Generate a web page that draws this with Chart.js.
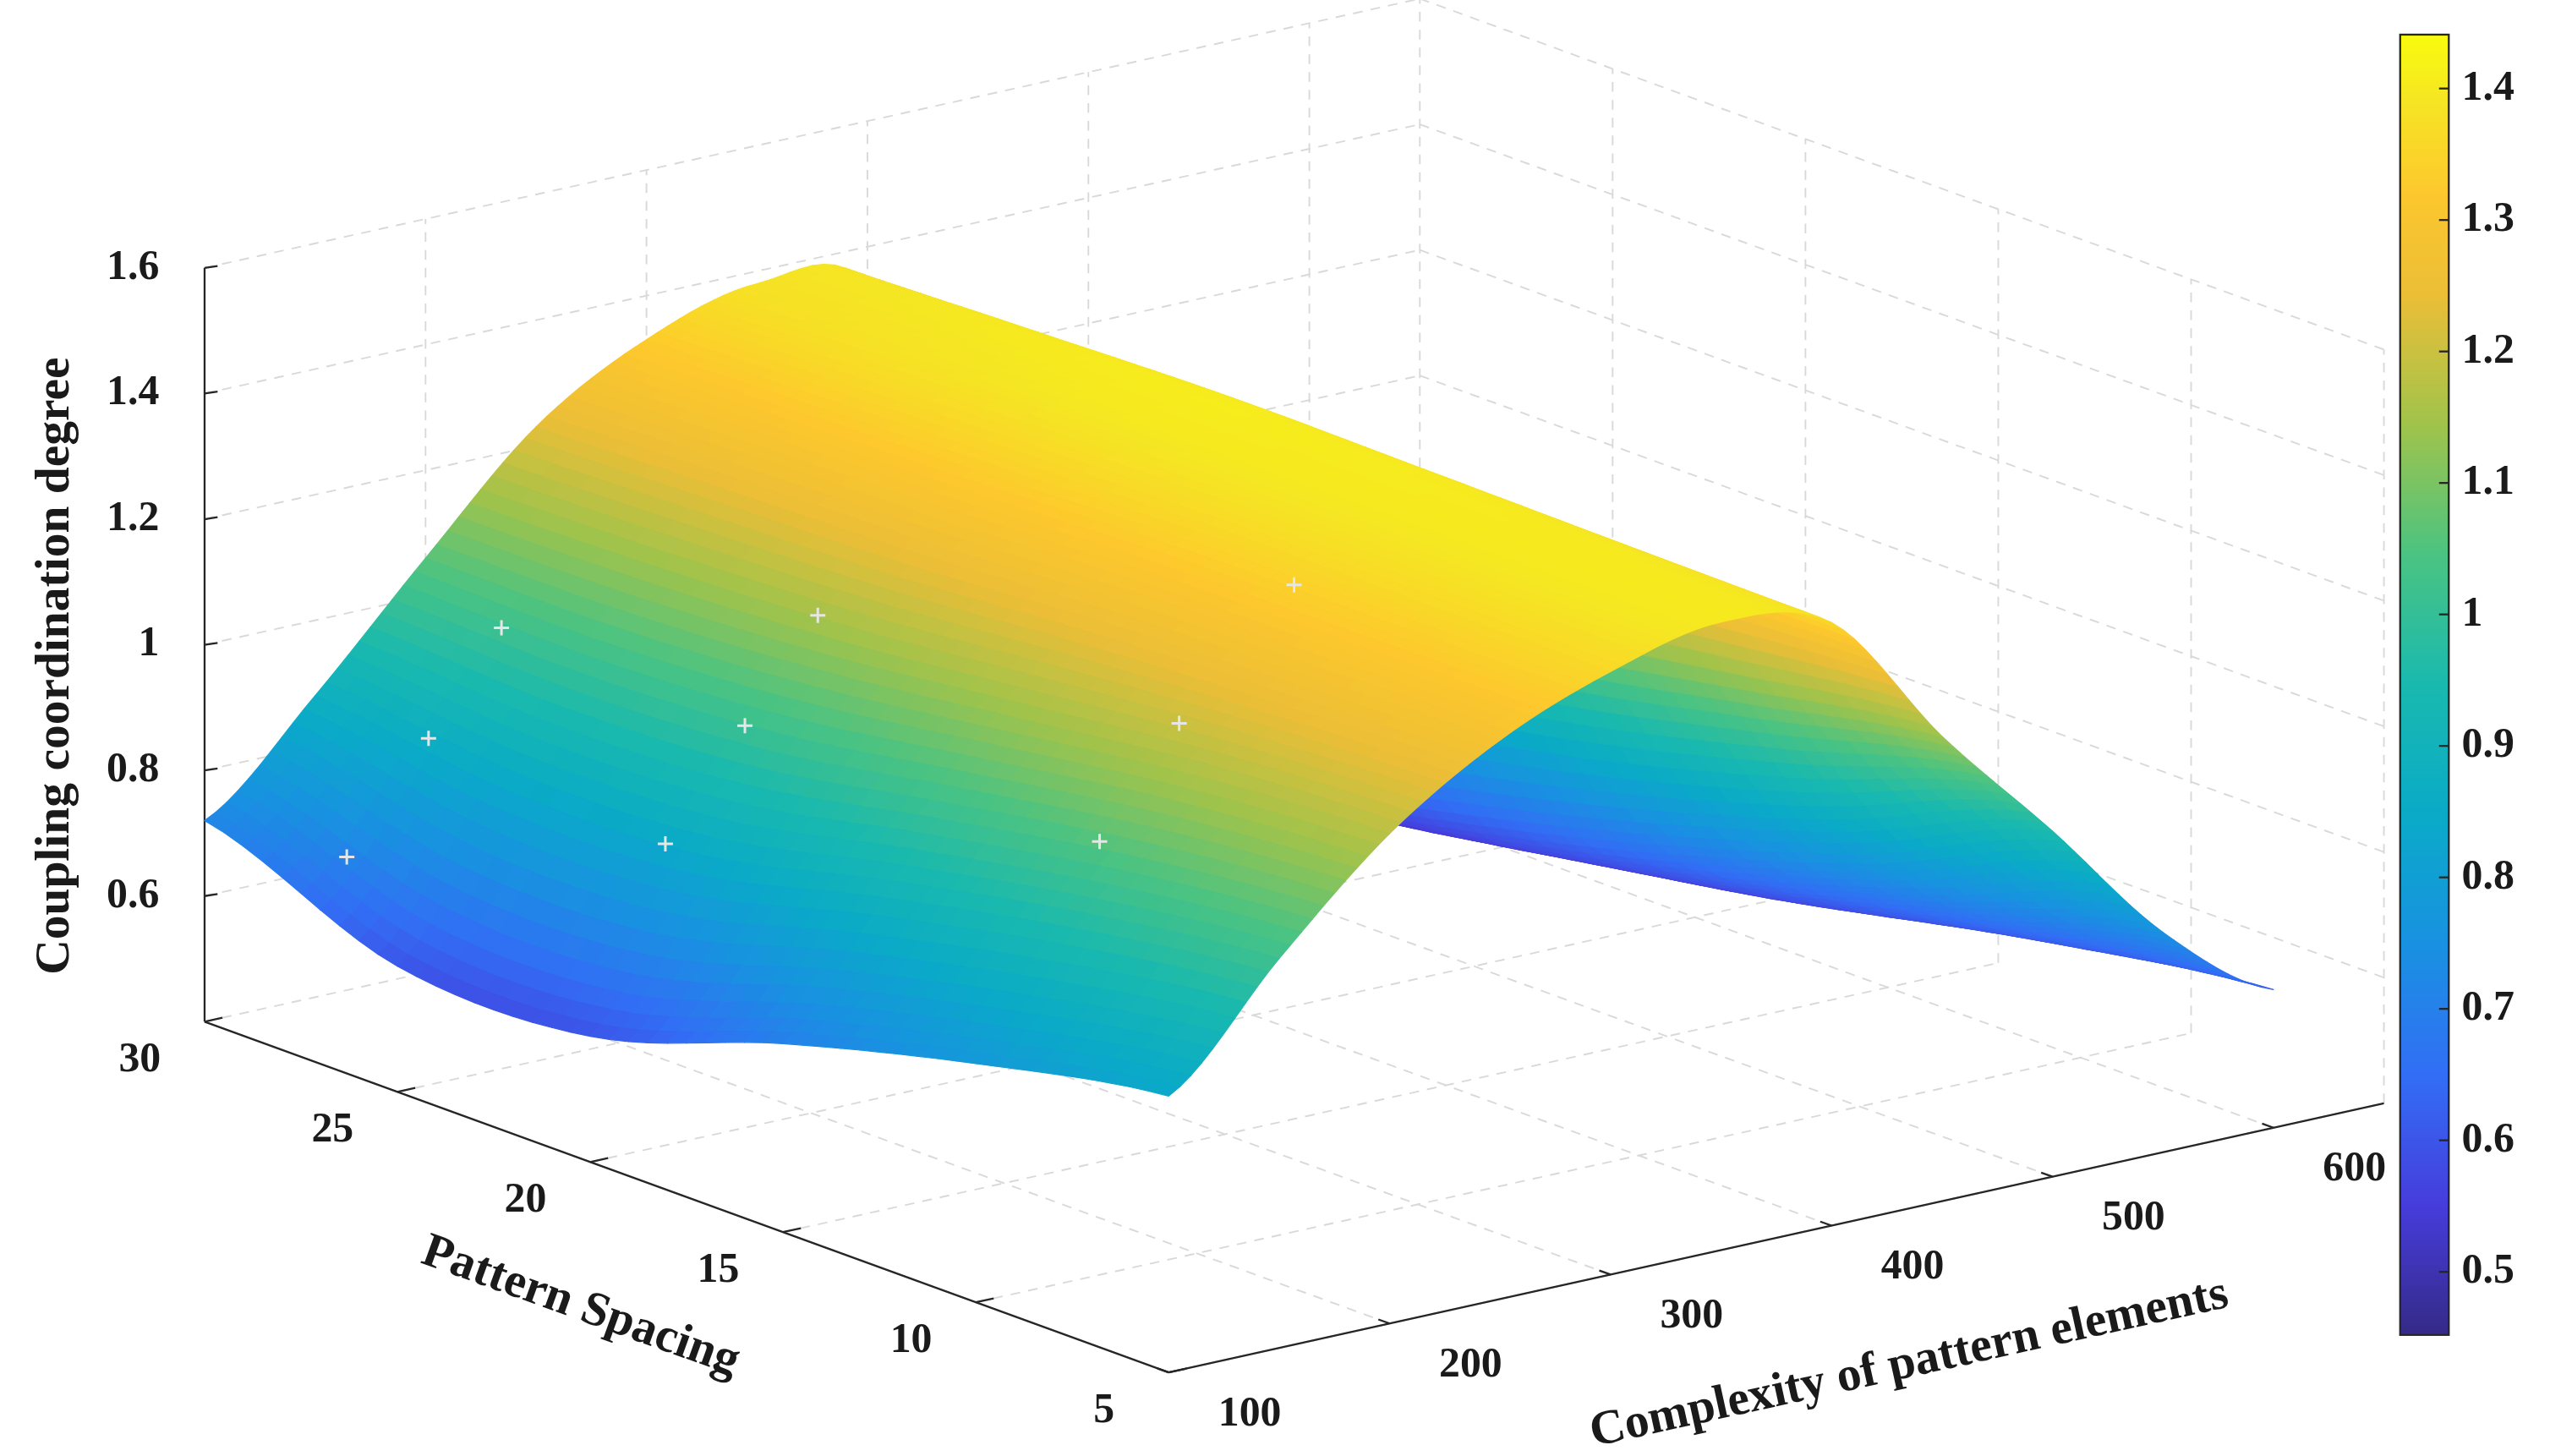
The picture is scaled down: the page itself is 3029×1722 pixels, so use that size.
<!DOCTYPE html>
<html>
<head>
<meta charset="utf-8">
<script src="https://cdn.jsdelivr.net/npm/chart.js@4.4.0/dist/chart.umd.min.js"></script>
<style>
  html, body { margin: 0; padding: 0; background: #fff; }
  #wrap { width: 3029px; height: 1722px; }
</style>
</head>
<body>
<div id="wrap"><canvas id="chart"></canvas></div>
<script>
// Surface data: coupling coordination degree over complexity x pattern spacing
const complexity = [100, 150, 200, 250, 300, 350, 400, 450, 500, 550, 600];
const spacing = [5, 10, 15, 20, 25, 30];
const coupling = [
    [0.84, 1.02, 1.18, 1.29, 1.36, 1.40, 1.36, 1.14, 0.95, 0.75, 0.62],
    [0.78, 0.98, 1.16, 1.28, 1.36, 1.40, 1.36, 1.08, 0.82, 0.66, 0.58],
    [0.70, 0.92, 1.12, 1.27, 1.36, 1.40, 1.36, 1.02, 0.72, 0.58, 0.54],
    [0.60, 0.85, 1.08, 1.25, 1.35, 1.40, 1.36, 0.98, 0.64, 0.53, 0.52],
    [0.60, 0.84, 1.06, 1.24, 1.34, 1.39, 1.35, 0.94, 0.58, 0.50, 0.50],
    [0.72, 0.88, 1.06, 1.23, 1.33, 1.38, 1.34, 0.92, 0.55, 0.50, 0.50]
];

// Sample points (white crosses)
const markerComplexity = [112, 149, 182, 134, 170, 203, 156, 192, 244];
const markerSpacing = [27, 27, 27, 20, 20, 20, 10, 10, 10];
const markerCoupling = [0.72, 0.88, 1.03, 0.88, 1.04, 1.19, 1.09, 1.25, 1.43];

// Axis ticks
const zTicks = [0.6, 0.8, 1, 1.2, 1.4, 1.6];
const spacingTicks = [5, 10, 15, 20, 25, 30];
const complexityTicks = [100, 200, 300, 400, 500, 600];
const colorTicks = [0.5, 0.6, 0.7, 0.8, 0.9, 1, 1.1, 1.2, 1.3, 1.4];
const C_MIN = 100, C_MAX = 650, S_MIN = 5, S_MAX = 30, Z_MIN = 0.4, Z_MAX = 1.6;
const CB_MIN = 0.452, CB_MAX = 1.441;

// Parula-like colormap
const parula = [
    [0.00, [53, 42, 135]], [0.10, [70, 60, 220]], [0.20, [50, 110, 245]],
    [0.30, [25, 145, 225]], [0.40, [10, 170, 200]], [0.50, [25, 185, 175]],
    [0.60, [75, 195, 130]], [0.70, [160, 195, 75]], [0.80, [235, 190, 55]],
    [0.88, [253, 200, 45]], [0.95, [245, 230, 35]], [1.00, [249, 251, 14]]
];

function parulaColor(v) {
    let t = (v - CB_MIN) / (CB_MAX - CB_MIN);
    t = Math.max(0, Math.min(1, t));
    for (let i = 1; i < parula.length; i++) {
        if (t <= parula[i][0]) {
            const a = parula[i - 1], b = parula[i];
            const f = (t - a[0]) / (b[0] - a[0]);
            const c = a[1].map((x, k) => Math.round(x + (b[1][k] - x) * f));
            return `rgb(${c[0]},${c[1]},${c[2]})`;
        }
    }
    return 'rgb(249,251,14)';
}

// Oblique projection of (complexity, spacing, z) into reference units
function proj(c, s, z) {
    return {
        x: 715 + 1.3636 * (c - 100) - 23.8 * (s - 5),
        y: 835 - 0.3 * (c - 100) - 8.6 * (s - 5) - 385 * (z - Z_MIN)
    };
}

// Catmull-Rom for smooth rendering between grid samples
function cr(p0, p1, p2, p3, t) {
    const t2 = t * t, t3 = t2 * t;
    return 0.5 * ((2 * p1) + (-p0 + p2) * t + (2 * p0 - 5 * p1 + 4 * p2 - p3) * t2 + (-p0 + 3 * p1 - 3 * p2 + p3) * t3);
}
function zAt(ci, sj) {
    const nc = complexity.length, ns = spacing.length;
    const i = Math.min(Math.floor(ci), nc - 2), u = ci - i;
    const j = Math.min(Math.floor(sj), ns - 2), v = sj - j;
    const cl = (k, n) => Math.max(0, Math.min(n - 1, k));
    const rows = [];
    for (let dj = -1; dj <= 2; dj++) {
        const r = coupling[cl(j + dj, ns)];
        rows.push(cr(r[cl(i - 1, nc)], r[i], r[cl(i + 1, nc)], r[cl(i + 2, nc)], u));
    }
    return cr(rows[0], rows[1], rows[2], rows[3], v);
}

const surfacePlugin = {
    id: 'surface3d',
    beforeDatasetsDraw(chart) {
        const ctx = chart.ctx;
        const xs = chart.scales.x, ys = chart.scales.y;
        const k = xs.getPixelForValue(1) - xs.getPixelForValue(0);
        const P = (c, s, z) => { const p = proj(c, s, z); return [xs.getPixelForValue(p.x), ys.getPixelForValue(p.y)]; };
        const line = (a, b, dash, color, w) => {
            ctx.save();
            ctx.setLineDash(dash.map(d => d * k));
            ctx.strokeStyle = color; ctx.lineWidth = w * k;
            ctx.beginPath(); ctx.moveTo(a[0], a[1]); ctx.lineTo(b[0], b[1]); ctx.stroke();
            ctx.restore();
        };
        const grid = '#d9d9d9', dash = [6, 5];

        // back walls and floor grid
        zTicks.forEach(z => {
            line(P(C_MIN, S_MAX, z), P(C_MAX, S_MAX, z), dash, grid, 1);
            line(P(C_MAX, S_MAX, z), P(C_MAX, S_MIN, z), dash, grid, 1);
        });
        complexityTicks.forEach(c => {
            line(P(c, S_MAX, Z_MIN), P(c, S_MAX, Z_MAX), dash, grid, 1);
            line(P(c, S_MIN, Z_MIN), P(c, S_MAX, Z_MIN), dash, grid, 1);
        });
        spacingTicks.forEach(s => {
            line(P(C_MAX, s, Z_MIN), P(C_MAX, s, Z_MAX), dash, grid, 1);
            line(P(C_MIN, s, Z_MIN), P(C_MAX, s, Z_MIN), dash, grid, 1);
        });

        // axes
        const axis = '#262626';
        line(P(C_MIN, S_MAX, Z_MIN), P(C_MIN, S_MAX, Z_MAX), [], axis, 1.2);
        line(P(C_MIN, S_MAX, Z_MIN), P(C_MIN, S_MIN, Z_MIN), [], axis, 1.2);
        line(P(C_MIN, S_MIN, Z_MIN), P(C_MAX, S_MIN, Z_MIN), [], axis, 1.2);

        ctx.save();
        ctx.fillStyle = '#1a1a1a';
        ctx.font = `bold ${26 * k}px "Liberation Serif", "DejaVu Serif", serif`;
        ctx.textBaseline = 'middle';
        ctx.textAlign = 'right';
        zTicks.forEach(z => {
            const a = P(C_MIN, S_MAX, z);
            line(a, [a[0] + 8 * k, a[1] - 1.2 * k], [], axis, 1.2);
            ctx.fillText(String(z), a[0] - 28 * k, a[1]);
        });
        spacingTicks.forEach(s => {
            const a = P(C_MIN, s, Z_MIN);
            line(a, [a[0] + 11 * k, a[1] - 2.4 * k], [], axis, 1.2);
            ctx.textAlign = 'center';
            ctx.fillText(String(s), a[0] - 40 * k, a[1] + 24 * k);
        });
        complexityTicks.forEach(c => {
            const a = P(c, S_MIN, Z_MIN);
            line(a, [a[0] - 7 * k, a[1] - 2.5 * k], [], axis, 1.2);
            ctx.textAlign = 'center';
            ctx.fillText(String(c), a[0] + 50 * k, a[1] + 26 * k);
        });

        // axis titles
        ctx.font = `bold ${30 * k}px "Liberation Serif", "DejaVu Serif", serif`;
        ctx.save();
        ctx.translate(xs.getPixelForValue(28), ys.getPixelForValue(402));
        ctx.rotate(-Math.PI / 2);
        ctx.fillText('Coupling coordination degree', 0, 0);
        ctx.restore();
        ctx.save();
        ctx.translate(xs.getPixelForValue(352), ys.getPixelForValue(795));
        ctx.rotate(Math.atan2(8.6, 23.8));
        ctx.fillText('Pattern Spacing', 0, 0);
        ctx.restore();
        ctx.save();
        ctx.translate(xs.getPixelForValue(1172), ys.getPixelForValue(830));
        ctx.rotate(-Math.atan2(0.3, 1.3636));
        ctx.fillText('Complexity of pattern elements', 0, 0);
        ctx.restore();
        ctx.restore();

        // surface patches, far ones first
        const sub = 10;
        const nc = (complexity.length - 1) * sub, ns = (spacing.length - 1) * sub;
        const cOf = ci => complexity[0] + (complexity[complexity.length - 1] - complexity[0]) * ci / nc;
        const sOf = sj => spacing[0] + (spacing[spacing.length - 1] - spacing[0]) * sj / ns;
        const zg = [];
        for (let j = 0; j <= ns; j++) {
            zg.push([]);
            for (let i = 0; i <= nc; i++) zg[j].push(zAt(i / sub, j / sub));
        }
        const quads = [];
        for (let j = 0; j < ns; j++) {
            for (let i = 0; i < nc; i++) {
                const cm = cOf(i + 0.5), sm = sOf(j + 0.5);
                quads.push({ i, j, depth: 0.3 * (cm - 100) + 8.6 * (sm - 5) });
            }
        }
        quads.sort((a, b) => b.depth - a.depth);
        ctx.save();
        ctx.lineJoin = 'round';
        quads.forEach(q => {
            const { i, j } = q;
            const pts = [[i, j], [i + 1, j], [i + 1, j + 1], [i, j + 1]].map(([a, b]) => P(cOf(a), sOf(b), zg[b][a]));
            const zm = (zg[j][i] + zg[j][i + 1] + zg[j + 1][i] + zg[j + 1][i + 1]) / 4;
            const col = parulaColor(zm);
            ctx.fillStyle = col; ctx.strokeStyle = col; ctx.lineWidth = 1.2;
            ctx.beginPath();
            pts.forEach((p, n) => n ? ctx.lineTo(p[0], p[1]) : ctx.moveTo(p[0], p[1]));
            ctx.closePath(); ctx.fill(); ctx.stroke();
        });
        ctx.restore();

        // colorbar
        const x0 = xs.getPixelForValue(1475), x1 = xs.getPixelForValue(1505);
        const yTop = ys.getPixelForValue(15), yBot = ys.getPixelForValue(812);
        const yOf = v => yBot + (yTop - yBot) * (v - CB_MIN) / (CB_MAX - CB_MIN);
        const g = ctx.createLinearGradient(0, yBot, 0, yTop);
        for (let n = 0; n <= 40; n++) g.addColorStop(n / 40, parulaColor(CB_MIN + (CB_MAX - CB_MIN) * n / 40));
        ctx.save();
        ctx.fillStyle = g;
        ctx.fillRect(x0, yTop, x1 - x0, yBot - yTop);
        ctx.strokeStyle = axis; ctx.lineWidth = 1.2 * k;
        ctx.strokeRect(x0, yTop, x1 - x0, yBot - yTop);
        ctx.fillStyle = '#1a1a1a';
        ctx.font = `bold ${26 * k}px "Liberation Serif", "DejaVu Serif", serif`;
        ctx.textAlign = 'left'; ctx.textBaseline = 'middle';
        colorTicks.forEach(v => {
            const y = yOf(v);
            ctx.beginPath(); ctx.moveTo(x1, y); ctx.lineTo(x1 - 6 * k, y); ctx.stroke();
            ctx.fillText(String(v), x1 + 8 * k, y);
        });
        ctx.restore();
    }
};

const markerPoints = markerComplexity.map((c, n) => proj(c, markerSpacing[n], markerCoupling[n]));

new Chart(document.getElementById('chart'), {
    type: 'scatter',
    data: {
        datasets: [{
            data: markerPoints,
            pointStyle: 'cross',
            pointRadius: 9,
            borderColor: '#e6e6e6',
            borderWidth: 3
        }]
    },
    options: {
        responsive: true,
        maintainAspectRatio: false,
        animation: false,
        layout: { padding: 0 },
        plugins: { legend: { display: false }, tooltip: { enabled: false } },
        scales: {
            x: { type: 'linear', min: 0, max: 1568, display: false },
            y: { type: 'linear', min: 0, max: 880, reverse: true, display: false }
        }
    },
    plugins: [surfacePlugin]
});
</script>
</body>
</html>
